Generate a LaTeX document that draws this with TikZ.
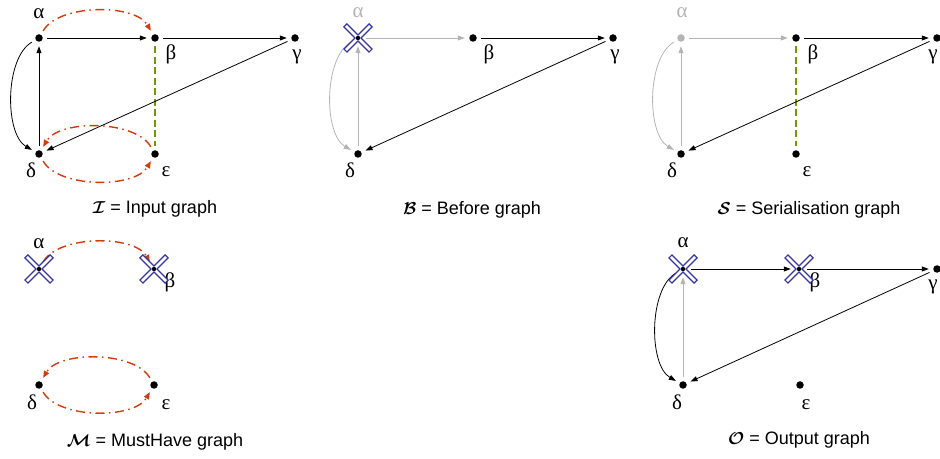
\documentclass[tikz,border=0pt]{standalone}
\usepackage{amsmath}
\usepackage{fontspec}
\setmainfont{Liberation Sans}
\newfontfamily\greekfont{Liberation Serif}
\usetikzlibrary{arrows.meta}
\definecolor{fadegray}{HTML}{B4B4B4}
\definecolor{musthavered}{HTML}{D23C0A}
\definecolor{serialgreen}{HTML}{6E9B00}
\definecolor{knockblue}{HTML}{3535A5}
% blue double-lined cross over a removed vertex
\newcommand{\knockout}[1]{%
  \draw[knockrim] ([shift={(-13,-13)}]#1.center) -- ([shift={(13,13)}]#1.center);
  \draw[knockrim] ([shift={(-13,13)}]#1.center) -- ([shift={(13,-13)}]#1.center);
  \draw[knockcore] ([shift={(-12.1,-12.1)}]#1.center) -- ([shift={(12.1,12.1)}]#1.center);
  \draw[knockcore] ([shift={(-12.1,12.1)}]#1.center) -- ([shift={(12.1,-12.1)}]#1.center);
  \fill (#1.center) circle (2.2);}

\begin{document}
\begin{tikzpicture}[
  x=1pt,
  y=1pt,
  every node/.style={font=\fontsize{18}{21}\selectfont},
  vtx/.style={circle, fill=black, inner sep=0pt, minimum size=7.5pt, outer sep=4.5pt},
  vtxgray/.style={vtx, fill=fadegray},
  lbl/.style={anchor=base, inner sep=0pt, font=\fontsize{21}{24}\selectfont\greekfont},
  lblgray/.style={lbl, text=fadegray},
  caption/.style={anchor=base, inner sep=0pt},
  edge/.style={line width=0.8pt, -{Triangle[length=7pt, width=5pt]}},
  faded/.style={edge, fadegray},
  mustarc/.style={musthavered, line width=1.4pt,
    dash pattern=on 9pt off 4.5pt on 1.5pt off 4.5pt,
    -{Triangle[length=7pt, width=5.5pt]}},
  serial/.style={serialgreen, line width=1.5pt, dash pattern=on 7pt off 3.5pt},
  knockrim/.style={knockblue, line width=5.4pt},
  knockcore/.style={white, line width=2.8pt}
]
  \useasboundingbox (0,0) rectangle (940,458);

  % ---- I = input graph ---------------------------------------------------
  \node[vtx] (iA) at (39,420) {};
  \node[vtx] (iB) at (155,420) {};
  \node[vtx] (iG) at (295,420) {};
  \node[vtx] (iD) at (39,304) {};
  \node[vtx] (iE) at (155,304) {};
  \node[lbl] (iAl) at (39,439) {α};
  \node[lbl] (iBl) at (171,398) {β};
  \node[lbl] (iGl) at (297,398) {γ};
  \node[lbl] (iDl) at (31,280) {δ};
  \node[lbl] (iEl) at (166,281) {ε};

  \draw[edge] (iA) -- (iB);
  \draw[edge] (iB) -- (iG);
  \draw[edge] (iD) -- (iA);
  \draw[edge] (iA) to[out=210, in=150, looseness=0.75] (iD);
  \draw[serial] (iB) -- (iE);
  \draw[edge] (iG) -- (iD);
  \draw[mustarc] (iA) to[out=60, in=120, looseness=0.75] (iB);
  \draw[mustarc] (iE) to[out=120, in=60, looseness=0.75] (iD);
  \draw[mustarc] (iD) to[out=-60, in=-120, looseness=0.75] (iE);

  \node[caption] (iCap) at (155,244) {$\boldsymbol{\mathcal{I}}$ = Input graph};

  % ---- B = before graph --------------------------------------------------
  \node[vtx] (bA) at (358,420) {};
  \node[vtx] (bB) at (473,420) {};
  \node[vtx] (bG) at (613,420) {};
  \node[vtx] (bD) at (358,304) {};
  \node[lblgray] (bAl) at (358,440) {α};
  \node[lbl] (bBl) at (489,398) {β};
  \node[lbl] (bGl) at (615,398) {γ};
  \node[lbl] (bDl) at (350,280) {δ};

  \draw[faded] (bA) -- (bB);
  \draw[edge] (bB) -- (bG);
  \draw[faded] (bD) -- (bA);
  \draw[faded] (bA) to[out=210, in=150, looseness=0.75] (bD);
  \draw[edge] (bG) -- (bD);
  \knockout{bA}

  \node[caption] (bCap) at (472,243) {$\boldsymbol{\mathcal{B}}$ = Before graph};

  % ---- S = serialisation graph -------------------------------------------
  \node[vtxgray] (sA) at (681,420) {};
  \node[vtx] (sB) at (796,420) {};
  \node[vtx] (sG) at (937,420) {};
  \node[vtx] (sD) at (681,304) {};
  \node[vtx] (sE) at (796,304) {};
  \node[lblgray] (sAl) at (682,440) {α};
  \node[lbl] (sBl) at (813,398) {β};
  \node[lbl] (sGl) at (933,398) {γ};
  \node[lbl] (sDl) at (672,280) {δ};
  \node[lbl] (sEl) at (807,281) {ε};

  \draw[faded] (sA) -- (sB);
  \draw[edge] (sB) -- (sG);
  \draw[faded] (sD) -- (sA);
  \draw[faded] (sA) to[out=210, in=150, looseness=0.75] (sD);
  \draw[serial] (sB) -- (sE);
  \draw[edge] (sG) -- (sD);

  \node[caption] (sCap) at (809,243) {$\boldsymbol{\mathcal{S}}$ = Serialisation graph};

  % ---- M = musthave graph ------------------------------------------------
  \node[vtx] (mA) at (39,189) {};
  \node[vtx] (mB) at (154,189) {};
  \node[vtx] (mD) at (39,73) {};
  \node[vtx] (mE) at (154,73) {};
  \node[lbl] (mAl) at (39,209) {α};
  \node[lbl] (mBl) at (170,170) {β};
  \node[lbl] (mDl) at (32,48) {δ};
  \node[lbl] (mEl) at (166,48) {ε};

  \draw[mustarc] (mA) to[out=60, in=120, looseness=0.75] (mB);
  \draw[mustarc] (mE) to[out=120, in=60, looseness=0.75] (mD);
  \draw[mustarc] (mD) to[out=-60, in=-120, looseness=0.75] (mE);
  \knockout{mA}
  \knockout{mB}

  \node[caption] (mCap) at (155,12) {$\boldsymbol{\mathcal{M}}$ = MustHave graph};

  % ---- O = output graph --------------------------------------------------
  \node[vtx] (oA) at (683,189) {};
  \node[vtx] (oB) at (799,189) {};
  \node[vtx] (oG) at (937,189) {};
  \node[vtx] (oD) at (683,73) {};
  \node[vtx] (oE) at (800,73) {};
  \node[lbl] (oAl) at (683,210) {α};
  \node[lbl] (oBl) at (815,170) {β};
  \node[lbl] (oGl) at (933,168) {γ};
  \node[lbl] (oDl) at (677,48) {δ};
  \node[lbl] (oEl) at (806,48) {ε};

  \draw[edge] (oA) -- (oB);
  \draw[edge] (oB) -- (oG);
  \draw[faded] (oD) -- (oA);
  \draw[edge] (oA) to[out=210, in=150, looseness=0.75] (oD);
  \draw[edge] (oG) -- (oD);
  \knockout{oA}
  \knockout{oB}

  \node[caption] (oCap) at (799,13) {$\boldsymbol{\mathcal{O}}$ = Output graph};

\end{tikzpicture}
\end{document}
